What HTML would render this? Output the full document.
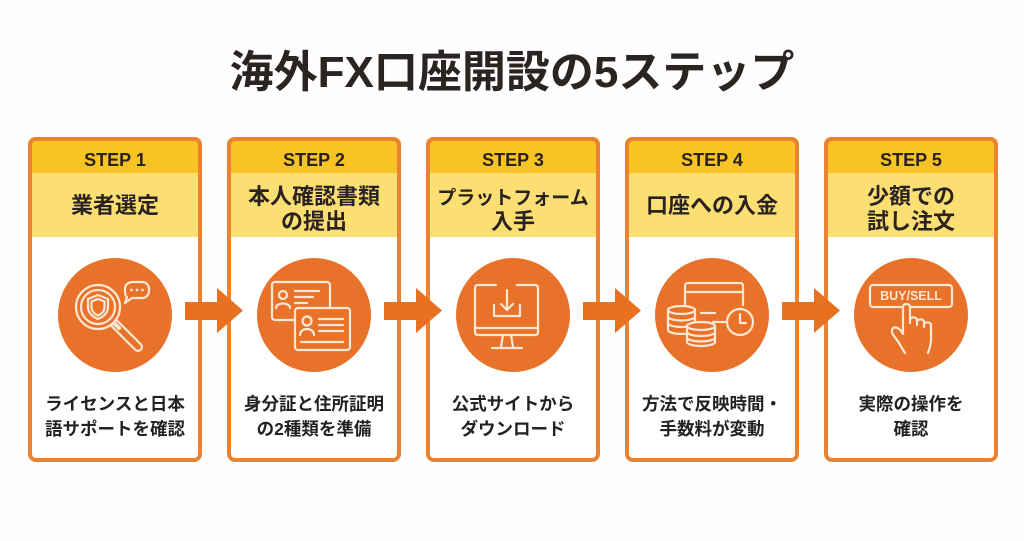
<!DOCTYPE html>
<html><head><meta charset="utf-8">
<style>
html,body{margin:0;padding:0;background:#fff;}
svg{display:block;}
text{font-family:"Liberation Sans","Noto Sans CJK JP",sans-serif;font-weight:bold;}
</style></head>
<body>
<svg width="1024" height="541" viewBox="0 0 1024 541" xmlns="http://www.w3.org/2000/svg">
<rect width="1024" height="541" fill="#fefefe"/>
<text x="512" y="87" font-size="44" text-anchor="middle" fill="#2a2422">海外FX口座開設の5ステップ</text>

<defs>
<clipPath id="c1"><rect x="28" y="137" width="174" height="325" rx="7"/></clipPath>
<clipPath id="c2"><rect x="227" y="137" width="174" height="325" rx="7"/></clipPath>
<clipPath id="c3"><rect x="426" y="137" width="174" height="325" rx="7"/></clipPath>
<clipPath id="c4"><rect x="625" y="137" width="174" height="325" rx="7"/></clipPath>
<clipPath id="c5"><rect x="824" y="137" width="174" height="325" rx="7"/></clipPath>
</defs>

<!-- card backgrounds -->
<g clip-path="url(#c1)"><rect x="28" y="137" width="174" height="325" fill="#fff"/><rect x="28" y="137" width="174" height="36" fill="#F8C425"/><rect x="28" y="173" width="174" height="64" fill="#FBDF72"/></g>
<g clip-path="url(#c2)"><rect x="227" y="137" width="174" height="325" fill="#fff"/><rect x="227" y="137" width="174" height="36" fill="#F8C425"/><rect x="227" y="173" width="174" height="64" fill="#FBDF72"/></g>
<g clip-path="url(#c3)"><rect x="426" y="137" width="174" height="325" fill="#fff"/><rect x="426" y="137" width="174" height="36" fill="#F8C425"/><rect x="426" y="173" width="174" height="64" fill="#FBDF72"/></g>
<g clip-path="url(#c4)"><rect x="625" y="137" width="174" height="325" fill="#fff"/><rect x="625" y="137" width="174" height="36" fill="#F8C425"/><rect x="625" y="173" width="174" height="64" fill="#FBDF72"/></g>
<g clip-path="url(#c5)"><rect x="824" y="137" width="174" height="325" fill="#fff"/><rect x="824" y="137" width="174" height="36" fill="#F8C425"/><rect x="824" y="173" width="174" height="64" fill="#FBDF72"/></g>

<g fill="none" stroke="#EA8231" stroke-width="4">
<rect x="30" y="139" width="170" height="321" rx="6"/>
<rect x="229" y="139" width="170" height="321" rx="6"/>
<rect x="428" y="139" width="170" height="321" rx="6"/>
<rect x="627" y="139" width="170" height="321" rx="6"/>
<rect x="826" y="139" width="170" height="321" rx="6"/>
</g>

<!-- STEP labels -->
<g font-size="18" text-anchor="middle" fill="#2a2220">
<text x="115" y="166">STEP 1</text>
<text x="314" y="166">STEP 2</text>
<text x="513" y="166">STEP 3</text>
<text x="712" y="166">STEP 4</text>
<text x="911" y="166">STEP 5</text>
</g>

<!-- titles -->
<g font-size="22" text-anchor="middle" fill="#2a2220">
<text x="115" y="213">業者選定</text>
<text x="314" y="204">本人確認書類</text>
<text x="314" y="229">の提出</text>
<text x="513" y="204" font-size="19">プラットフォーム</text>
<text x="513" y="229">入手</text>
<text x="712" y="213">口座への入金</text>
<text x="911" y="204">少額での</text>
<text x="911" y="229">試し注文</text>
</g>

<!-- descriptions -->
<g font-size="17.5" text-anchor="middle" fill="#222">
<text x="115" y="410">ライセンスと日本</text>
<text x="115" y="435">語サポートを確認</text>
<text x="314" y="410">身分証と住所証明</text>
<text x="314" y="435">の2種類を準備</text>
<text x="513" y="410">公式サイトから</text>
<text x="513" y="435">ダウンロード</text>
<text x="712" y="410">方法で反映時間・</text>
<text x="712" y="435">手数料が変動</text>
<text x="911" y="410">実際の操作を</text>
<text x="911" y="435">確認</text>
</g>

<!-- circles -->
<g fill="#E8722A">
<circle cx="115" cy="315" r="57"/>
<circle cx="314" cy="315" r="57"/>
<circle cx="513" cy="315" r="57"/>
<circle cx="712" cy="315" r="57"/>
<circle cx="911" cy="315" r="57"/>
</g>

<!-- icon 1 -->
<g transform="translate(58,258)" fill="none" stroke="#FCE8D4" stroke-width="2.2" stroke-linecap="round" stroke-linejoin="round">
<line x1="57" y1="66" x2="80" y2="89" stroke-width="10"/>
<line x1="57" y1="66" x2="80" y2="89" stroke="#E8722A" stroke-width="5.6"/>
<line x1="55" y1="64" x2="61" y2="70" stroke-width="4"/>
<circle cx="40" cy="49" r="22" fill="#E8722A"/>
<circle cx="40" cy="49" r="17"/>
<path d="M40 37 L50 41 V49 C50 55 45 59 40 61 C35 59 30 55 30 49 V41 Z"/>
<path d="M40 41 L46.5 43.5 V49 C46.5 53 43.5 56 40 57.5 C36.5 56 33.5 53 33.5 49 V43.5 Z"/>
<path d="M75 24 H84 C88 24 91 27 91 31 V33 C91 37 88 40 84 40 H74 L67 45 L69 39 C67.5 38 67 36 67 33 V31 C67 27 70 24 75 24 Z"/>
<g fill="#FCE8D4" stroke="none"><circle cx="73.5" cy="32" r="1.4"/><circle cx="79" cy="32" r="1.4"/><circle cx="84.5" cy="32" r="1.4"/></g>
</g>

<!-- icon 2 -->
<g transform="translate(257,258)" fill="none" stroke="#FCE8D4" stroke-width="2.2" stroke-linecap="round" stroke-linejoin="round">
<rect x="15" y="24" width="58" height="38" rx="3"/>
<circle cx="26" cy="37" r="4"/>
<path d="M19 50 C19 44 33 44 33 50"/>
<line x1="38" y1="33" x2="62" y2="33"/>
<line x1="38" y1="39" x2="56" y2="39"/>
<line x1="38" y1="45" x2="50" y2="45"/>
<rect x="38" y="50" width="55" height="42" rx="3" fill="#E8722A"/>
<circle cx="50" cy="63" r="4.5"/>
<path d="M43 77 C43 69 57 69 57 77"/>
<line x1="62" y1="61" x2="86" y2="61"/>
<line x1="62" y1="67" x2="86" y2="67"/>
<line x1="62" y1="73" x2="86" y2="73"/>
<line x1="44" y1="84" x2="86" y2="84"/>
</g>

<!-- icon 3 -->
<g transform="translate(456,258)" fill="none" stroke="#FCE8D4" stroke-width="2.2" stroke-linecap="round" stroke-linejoin="round">
<path d="M40 27 H22 C20 27 19 28 19 30 V74 C19 76 20 77 22 77 H79 C81 77 82 76 82 74 V30 C82 28 81 27 79 27 H61"/>
<line x1="19" y1="70" x2="82" y2="70"/>
<path d="M47 77 L45 89 M55 77 L57 89"/>
<line x1="36" y1="90" x2="66" y2="90"/>
<path d="M38 47 V58 H64 V47"/>
<line x1="51" y1="32" x2="51" y2="52"/>
<path d="M45 46 L51 52 L57 46"/>
</g>

<!-- icon 4 -->
<g transform="translate(655,258)" fill="none" stroke="#FCE8D4" stroke-width="2.2" stroke-linecap="round" stroke-linejoin="round">
<path d="M30 47 V28 C30 26 31 25 33 25 H85 C87 25 88 26 88 28 V47"/>
<line x1="30" y1="34" x2="88" y2="34"/>
<line x1="46" y1="55" x2="60" y2="55"/>
<line x1="58" y1="64" x2="70" y2="64"/>
<path d="M13 52 V72 A13.5 4 0 0 0 40 72 V52" fill="#E8722A"/>
<ellipse cx="26.5" cy="52" rx="13.5" ry="4" fill="#E8722A"/>
<path d="M13 58.5 A13.5 4 0 0 0 40 58.5"/>
<path d="M13 65 A13.5 4 0 0 0 40 65"/>
<path d="M32 68 V84 A14 4 0 0 0 60 84 V68" fill="#E8722A"/>
<ellipse cx="46" cy="68" rx="14" ry="4" fill="#E8722A"/>
<path d="M32 74 A14 4 0 0 0 60 74"/>
<path d="M32 79.5 A14 4 0 0 0 60 79.5"/>
<circle cx="85" cy="64" r="13" fill="#E8722A"/>
<path d="M85 56 V65 H91"/>
</g>

<!-- icon 5 -->
<g transform="translate(854,258)" fill="none" stroke="#FCE8D4" stroke-width="2.2" stroke-linecap="round" stroke-linejoin="round">
<rect x="16" y="27" width="82" height="22" rx="3"/>
<text x="57" y="42" font-size="12.5" text-anchor="middle" fill="#FCE8D4" stroke="none">BUY/SELL</text>
<path d="M51 95 L45 85 C42 80 37 76 38 72 C39 68 44 69 47 73 L49 76 L49 49 C49 45 56 45 56 49 L56 65 L56 62 C56 58.5 63 58.5 63 62 L63 67 L63 64 C63 60.5 70 60.5 70 64 L70 69 L70 67 C70 63.5 77 63.5 77 67 L77 82 C77 88 75 91 74 95" fill="#E8722A"/>
</g>

<!-- arrows -->
<g fill="#E8711F">
<polygon points="185,302 217,302 217,288 243,310.5 217,333 217,320 185,320"/>
<polygon points="384,302 416,302 416,288 442,310.5 416,333 416,320 384,320"/>
<polygon points="583,302 615,302 615,288 641,310.5 615,333 615,320 583,320"/>
<polygon points="782,302 814,302 814,288 840,310.5 814,333 814,320 782,320"/>
</g>
</svg>
</body></html>
